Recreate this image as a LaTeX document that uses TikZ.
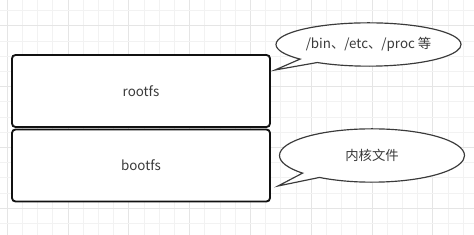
\documentclass[tikz,border=0pt]{standalone}
\usepackage{fontspec}
\setmainfont{Noto Sans CJK SC}
\usepackage{xcolor}
\definecolor{fsink}{HTML}{3A3A3A}
\definecolor{fsedge}{HTML}{111111}
\definecolor{fsgrid}{HTML}{F2F2F2}
\definecolor{fsgridmajor}{HTML}{E5E5E5}
\usetikzlibrary{shapes.callouts}
\tikzset{
  fslayer/.style  ={rectangle, rounded corners=3pt, draw=fsedge, fill=white,
                    line width=1.6pt, minimum width=7.74cm, minimum height=2.16cm,
                    inner sep=0pt, font=\fontsize{11.4}{13}\selectfont, text=fsink},
  fsnote/.style   ={ellipse callout, draw=fsink, fill=white, line width=1pt,
                    callout pointer arc=14, inner sep=0pt, minimum width=5.55cm,
                    font=\fontsize{11.4}{13}\selectfont, text=fsink},
}
\begin{document}
\begin{tikzpicture}[x=0.03cm, y=-0.03cm]
  \useasboundingbox (0,0) rectangle (474,235);
  % grid
  \foreach \i in {0,...,31}{
    \pgfmathsetmacro{\gx}{7+15.2*\i}
    \pgfmathtruncatemacro{\gm}{mod(\i,4)}
    \ifnum\gm=0 \draw[fsgridmajor, line width=0.4pt] (\gx,0) -- (\gx,235);
    \else \draw[fsgrid, line width=0.4pt] (\gx,0) -- (\gx,235); \fi
  }
  \foreach \i in {-13,...,1}{
    \pgfmathsetmacro{\gy}{208+15.2*\i}
    \pgfmathtruncatemacro{\gm}{mod(abs(\i),4)}
    \ifnum\gm=0 \draw[fsgridmajor, line width=0.4pt] (0,\gy) -- (474,\gy);
    \else \draw[fsgrid, line width=0.4pt] (0,\gy) -- (474,\gy); \fi
  }
  % layers
  \node[fslayer] (rootfs) at (141,91) {rootfs};
  \node[fslayer] (bootfs) at (141,165.5) {bootfs};
  % notes
  \coordinate (roottip) at (275,70);
  \coordinate (boottip) at (278,186);
  \node[fsnote, minimum height=1.3cm, callout absolute pointer=(roottip)]
    (rootnote) at (368.5,44.5) {/bin、/etc、/proc 等};
  \node[fsnote, minimum height=1.6cm, callout absolute pointer=(boottip)]
    (bootnote) at (372,155.5) {内核文件};
\end{tikzpicture}
\end{document}
